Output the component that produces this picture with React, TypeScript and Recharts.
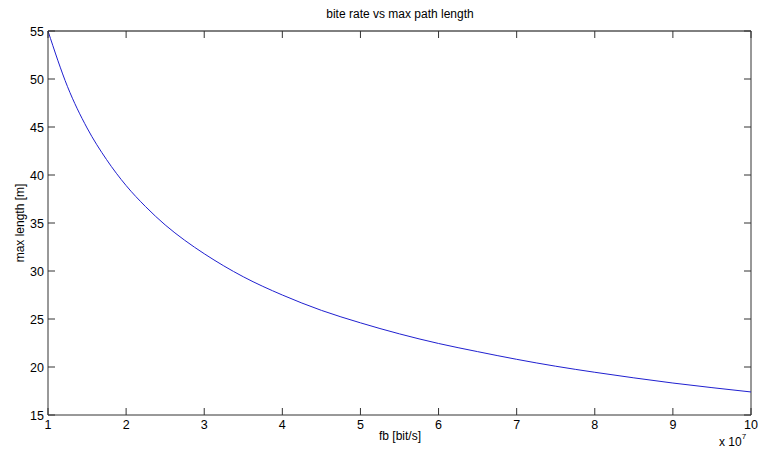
import { Line, LineChart, ReferenceLine, XAxis, YAxis } from "recharts";

// bit rate in units of 10^7 bit/s
const fbValues = [
  1, 1.25, 1.5, 1.75, 2, 2.25, 2.5, 2.75, 3, 3.5, 4, 4.5, 5, 5.5, 6, 6.5, 7,
  7.5, 8, 8.5, 9, 9.5, 10,
];
// max path length [m]
const maxLength = [
  55.0, 49.2, 44.9, 41.6, 38.9, 36.7, 34.8, 33.2, 31.8, 29.4, 27.5, 25.9, 24.6,
  23.45, 22.45, 21.6, 20.8, 20.08, 19.45, 18.87, 18.33, 17.85, 17.4,
];

const xTicks = [1, 2, 3, 4, 5, 6, 7, 8, 9, 10];
const yTicks = [15, 20, 25, 30, 35, 40, 45, 50, 55];

const data = fbValues.map((fb, i) => ({ fb, len: maxLength[i] }));

const W = 758;
const H = 452;
const PLOT_LEFT = 48;
const PLOT_RIGHT = 751;
const PLOT_TOP = 31;
const PLOT_BOTTOM = 415;
const TICK_LEN = 7;
const FONT = "'Liberation Sans', Arial, sans-serif";
const AXIS_COLOR = "#333";

function XTick(props: any) {
  const x = props.payload?.coordinate ?? props.x;
  return (
    <g>
      <line x1={x} x2={x} y1={PLOT_BOTTOM} y2={PLOT_BOTTOM - TICK_LEN} stroke={AXIS_COLOR} />
      <line x1={x} x2={x} y1={PLOT_TOP} y2={PLOT_TOP + TICK_LEN} stroke={AXIS_COLOR} />
      <text x={x} y={PLOT_BOTTOM + 14} textAnchor="middle" fontSize={12.5} fill="#000" fontFamily={FONT}>
        {props.payload.value}
      </text>
    </g>
  );
}

function YTick(props: any) {
  const y = props.payload?.coordinate ?? props.y;
  return (
    <g>
      <line x1={PLOT_LEFT} x2={PLOT_LEFT + TICK_LEN} y1={y} y2={y} stroke={AXIS_COLOR} />
      <line x1={PLOT_RIGHT} x2={PLOT_RIGHT - TICK_LEN} y1={y} y2={y} stroke={AXIS_COLOR} />
      <text x={PLOT_LEFT - 4} y={y + 4.5} textAnchor="end" fontSize={12.5} fill="#000" fontFamily={FONT}>
        {props.payload.value}
      </text>
    </g>
  );
}

export default function App() {
  return (
    <div style={{ position: "absolute", left: 0, top: 0, width: W, height: H, background: "#fff", fontFamily: FONT }}>
      <LineChart
        width={W}
        height={H}
        data={data}
        margin={{ top: PLOT_TOP, right: W - PLOT_RIGHT, left: 0, bottom: 0 }}
      >
        <XAxis
          dataKey="fb"
          type="number"
          domain={[1, 10]}
          ticks={xTicks}
          height={H - PLOT_BOTTOM}
          axisLine={{ stroke: AXIS_COLOR }}
          tickLine={false}
          tick={XTick}
          interval={0}
        />
        <YAxis
          type="number"
          domain={[15, 55]}
          ticks={yTicks}
          width={PLOT_LEFT}
          axisLine={{ stroke: AXIS_COLOR }}
          tickLine={false}
          tick={YTick}
          interval={0}
        />
        <ReferenceLine y={55} stroke="#000" />
        <ReferenceLine x={10} stroke={AXIS_COLOR} />
        <Line
          type="monotone"
          dataKey="len"
          stroke="#2020d0"
          strokeWidth={1}
          dot={false}
          isAnimationActive={false}
        />
      </LineChart>
      <div style={{ position: "absolute", left: 0, width: W, top: 7, textAlign: "center", fontSize: 12, paddingLeft: 42, boxSizing: "border-box" }}>
        bite rate vs max path length
      </div>
      <div style={{ position: "absolute", left: 0, width: W, top: 429, textAlign: "center", fontSize: 12, paddingLeft: 42, boxSizing: "border-box" }}>
        fb [bit/s]
      </div>
      <div
        style={{
          position: "absolute",
          left: 20,
          top: 223,
          fontSize: 12,
          whiteSpace: "nowrap",
          transform: "translate(-50%, -50%) rotate(-90deg)",
        }}
      >
        max length [m]
      </div>
      <div style={{ position: "absolute", left: 719, top: 435, fontSize: 12, whiteSpace: "nowrap" }}>
        x 10<sup style={{ fontSize: 8, verticalAlign: "top", position: "relative", top: -3 }}>7</sup>
      </div>
    </div>
  );
}
